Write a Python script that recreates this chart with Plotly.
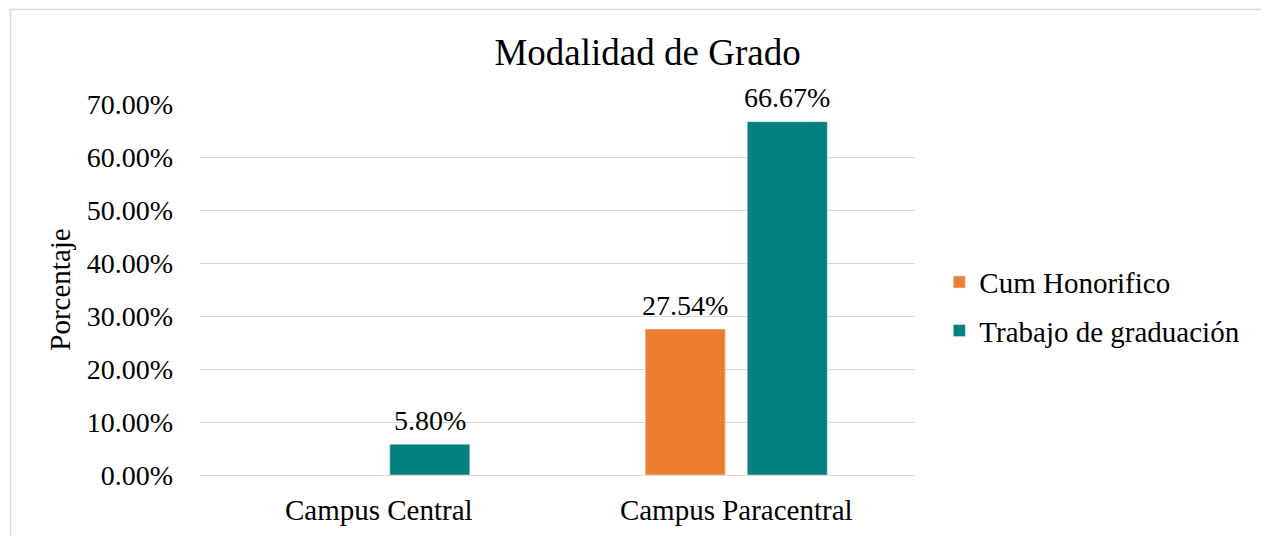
import plotly.graph_objects as go

# Data
campus = ["Campus Central", "Campus Paracentral"]
cum_honorifico = [None, 0.2754]
trabajo_graduacion = [0.0580, 0.6667]
y_ticks = [0, 0.1, 0.2, 0.3, 0.4, 0.5, 0.6, 0.7]

font = "Liberation Serif, Times New Roman, serif"

fig = go.Figure()
fig.add_trace(go.Bar(
    x=campus, y=cum_honorifico, name="Cum Honorifico",
    marker_color="#ED7D31", legendgroup="a",
))
fig.add_trace(go.Bar(
    x=campus, y=trabajo_graduacion, name="Trabajo de graduación",
    marker_color="#008080", legendgroup="b",
))

# data labels above each bar (offset to the grouped bar position)
for vals, dx in [(cum_honorifico, -51), (trabajo_graduacion, 51)]:
    for cat, v in zip(campus, vals):
        if v is None:
            continue
        fig.add_annotation(x=cat, y=v, text=f"{v * 100:.2f}%", showarrow=False,
                           xshift=dx, yshift=24, yanchor="middle",
                           font=dict(size=28, color="#000000"))

# page is offset by the 8px body margin
fig.update_layout(
    width=1269, height=536,
    margin=dict(l=192, r=362, t=96, b=69),
    paper_bgcolor="white", plot_bgcolor="white",
    font=dict(family=font, size=29, color="#000000"),
    title=dict(text="Modalidad de Grado", x=0.504, xanchor="center",
               y=0.918, yanchor="middle", font=dict(size=37)),
    barmode="group", bargap=0.429, bargroupgap=0.216,
    legend=dict(x=1.034, y=0.454, xanchor="left", yanchor="middle",
                font=dict(size=29), tracegroupgap=8),
    showlegend=True,
)
fig.update_yaxes(
    range=[0, 0.7], tickvals=y_ticks, tickformat=".2%",
    tickfont=dict(size=28),
    showgrid=True, gridcolor="#d9d9d9", gridwidth=1,
    zeroline=True, zerolinecolor="#d9d9d9", zerolinewidth=1,
    showline=False, ticks="", ticklabelstandoff=26,
    title=dict(text="Porcentaje", standoff=7, font=dict(size=29)),
)
fig.update_xaxes(showline=False, ticks="", ticklabelstandoff=15)

# light chart border
fig.add_shape(type="rect", xref="paper", yref="paper",
              x0=(2.5 - 192) / 715, x1=(1290 - 192) / 715,
              y0=(467 - 560) / 371, y1=(467 - 1.5) / 371,
              line=dict(color="#d9d9d9", width=1.5), fillcolor="rgba(0,0,0,0)")

fig.write_html("out.html")
